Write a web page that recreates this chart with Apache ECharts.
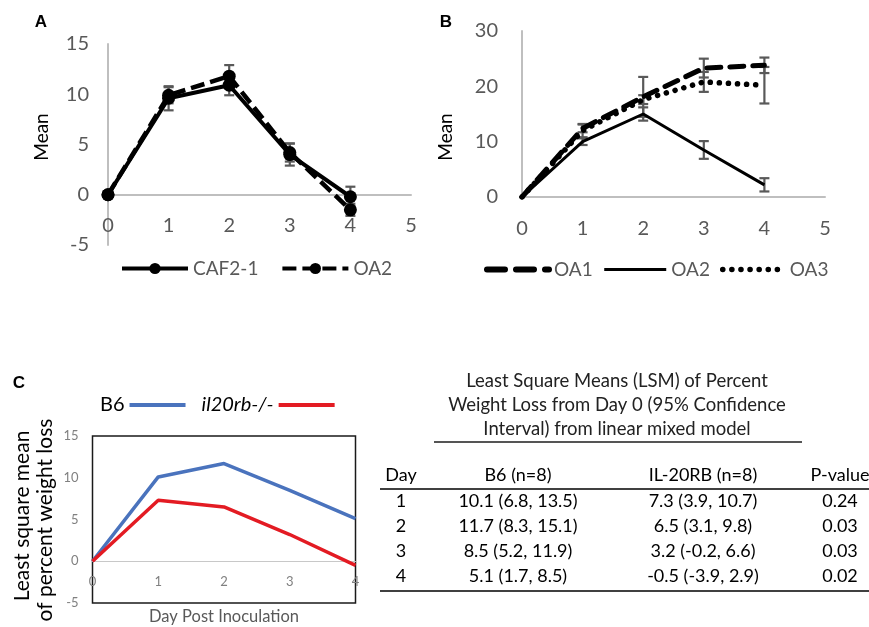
<!DOCTYPE html>
<html>
<head>
<meta charset="utf-8">
<script src="https://cdn.jsdelivr.net/npm/echarts@6/dist/echarts.min.js"></script>
<style>
html, body { margin: 0; padding: 0; background: #fff; }
#chart { width: 869px; height: 627px; }
</style>
</head>
<body>
<div id="chart"></div>
<script>
const days = [0, 1, 2, 3, 4]

// panel A
const caf21 = [0, 9.6, 10.9, 4.0, -0.2]
const caf21Err = [0, 1.2, 1.0, 1.1, 1.0]
const oa2A = [0, 9.9, 11.8, 4.2, -1.5]
const oa2AErr = [0, 0.8, 1.1, 0.9, 0.6]

// panel B
const oa1B = [0, 12.4, 18.1, 23.3, 23.8]
const oa1BErr = [0, 0.7, 3.6, 1.7, 1.4]
const oa2B = [0, 10.0, 15.0, 8.5, 2.2]
const oa2BErr = [0, 0.6, 1.2, 1.6, 1.2]
const oa3B = [0, 12.0, 17.6, 20.8, 20.2]
const oa3BErr = [0, 1.2, 0.8, 1.8, 3.3]

// panel C
const b6 = [0, 10.1, 11.7, 8.5, 5.1]
const il20rb = [0, 7.3, 6.5, 3.2, -0.5]

// table next to C
const tableDays = [1, 2, 3, 4]
const b6Low = [6.8, 8.3, 5.2, 1.7]
const b6High = [13.5, 15.1, 11.9, 8.5]
const ilLow = [3.9, 3.1, -0.2, -3.9]
const ilHigh = [10.7, 9.8, 6.6, 2.9]
const pValues = ['0.24', '0.03', '0.03', '0.02']
const tableTitle = [
  'Least Square Means (LSM) of Percent',
  'Weight Loss from Day 0 (95% Confidence',
  'Interval) from linear mixed model'
]
const tableHead = ['Day', 'B6 (n=8)', 'IL-20RB (n=8)', 'P-value']

const FONT = 'Lato'
const GREY = '#595959'

const pts = (ys) => days.map((d, i) => [d, ys[i]])

const errorBars = (ys, errs, gi) => ({
  type: 'custom',
  xAxisIndex: gi,
  yAxisIndex: gi,
  silent: true,
  z: 1,
  data: days.filter((d, i) => errs[i] > 0).map((d) => {
    const i = days.indexOf(d)
    return [d, ys[i] - errs[i], ys[i] + errs[i]]
  }),
  renderItem: (params, api) => {
    const lo = api.coord([api.value(0), api.value(1)])
    const hi = api.coord([api.value(0), api.value(2)])
    const w = 5
    const st = { stroke: GREY, lineWidth: 2.2 }
    return {
      type: 'group',
      children: [
        { type: 'line', shape: { x1: lo[0], y1: lo[1], x2: hi[0], y2: hi[1] }, style: st },
        { type: 'line', shape: { x1: lo[0] - w, y1: lo[1], x2: lo[0] + w, y2: lo[1] }, style: st },
        { type: 'line', shape: { x1: hi[0] - w, y1: hi[1], x2: hi[0] + w, y2: hi[1] }, style: st }
      ]
    }
  }
})

const txt = (text, x, y, o = {}) => ({
  type: 'text',
  x, y,
  rotation: o.rotation || 0,
  silent: true,
  style: {
    text,
    x: 0, y: 0,
    align: o.align || 'center',
    verticalAlign: 'middle',
    fontSize: o.size || 18,
    fontWeight: o.weight || 'normal',
    fontStyle: o.style || 'normal',
    fontFamily: o.family || FONT,
    fill: o.color || '#000'
  }
})
const hline = (x1, x2, y, w, c) => ({
  type: 'line', silent: true,
  shape: { x1, y1: y, x2, y2: y },
  style: { stroke: c || '#000', lineWidth: w || 1.5 }
})

// table
const colX = [401, 518, 703, 840]
const rowY = [501, 526, 551, 576]
const fmt = (v, lo, hi) => `${v.toFixed(1)} (${lo.toFixed(1)}, ${hi.toFixed(1)})`
const tableEls = []
tableTitle.forEach((t, i) => tableEls.push(txt(t, 617, 381 + i * 24, { color: '#222', size: 18.5 })))
tableEls.push(hline(434, 802, 442, 2, '#555'))
tableHead.forEach((t, i) => tableEls.push(txt(t, colX[i], 475)))
tableEls.push(hline(380, 869, 489, 1.5))
tableDays.forEach((d, i) => {
  tableEls.push(txt(String(d), colX[0], rowY[i]))
  tableEls.push(txt(fmt(b6[d], b6Low[i], b6High[i]), colX[1], rowY[i]))
  tableEls.push(txt(fmt(il20rb[d], ilLow[i], ilHigh[i]), colX[2], rowY[i]))
  tableEls.push(txt(pValues[i], colX[3], rowY[i]))
})
tableEls.push(hline(380, 869, 591, 1.5))

const greyAxis = { show: true, onZero: false, lineStyle: { color: '#bfbfbf', width: 2 } }
const labelAB = (margin) => ({ color: GREY, fontSize: 20, fontFamily: FONT, margin })

const chart = echarts.init(document.getElementById('chart'))
chart.setOption({
  animation: false,
  backgroundColor: '#fff',
  grid: [
    { left: 108, top: 44, width: 303, height: 201, outerBoundsMode: 'none' },
    { left: 522, top: 31, width: 303, height: 166, outerBoundsMode: 'none' },
    { left: 92.5, top: 436, width: 263, height: 167, outerBoundsMode: 'none',
      show: true, borderColor: '#1a1a1a', borderWidth: 1.5, backgroundColor: 'transparent' }
  ],
  xAxis: [
    // x axes sit on the zero line: shifted up from the grid bottom
    { gridIndex: 0, type: 'value', min: 0, max: 5, interval: 1, offset: -50.5, axisLine: greyAxis,
      axisTick: { show: false }, splitLine: { show: false }, axisLabel: labelAB(21) },
    { gridIndex: 1, type: 'value', min: 0, max: 5, interval: 1, axisLine: greyAxis,
      axisTick: { show: false }, splitLine: { show: false }, axisLabel: labelAB(22) },
    { gridIndex: 2, type: 'value', min: 0, max: 4, interval: 1, offset: -41.5,
      axisLine: { show: true, onZero: false, lineStyle: { color: '#c8c8c8', width: 1 } },
      axisTick: { show: false }, splitLine: { show: false },
      axisLabel: { color: '#808080', fontSize: 13, fontFamily: FONT, margin: 14 } }
  ],
  yAxis: [
    { gridIndex: 0, type: 'value', min: -5, max: 15, interval: 5, axisLine: greyAxis,
      axisTick: { show: false }, splitLine: { show: false }, axisLabel: labelAB(19) },
    { gridIndex: 1, type: 'value', min: 0, max: 30, interval: 10, axisLine: greyAxis,
      axisTick: { show: false }, splitLine: { show: false }, axisLabel: labelAB(24) },
    { gridIndex: 2, type: 'value', min: -5, max: 15, interval: 5,
      axisLine: { show: false }, axisTick: { show: false }, splitLine: { show: false },
      axisLabel: { color: '#808080', fontSize: 13, fontFamily: FONT, margin: 14 } }
  ],
  legend: [
    { data: ['CAF2-1', 'OA2 (A)'], left: 115, top: 254, itemWidth: 66, itemHeight: 14, itemGap: 22,
      formatter: (n) => n.replace(' (A)', ''),
      lineStyle: { width: 4 },
      textStyle: { color: GREY, fontSize: 19, fontFamily: FONT } },
    { data: [
        { name: 'OA1', lineStyle: { width: 6, type: [18, 11] } },
        { name: 'OA2 (B)', lineStyle: { width: 3 } },
        { name: 'OA3', lineStyle: { width: 5.5 } }
      ],
      left: 479, top: 255, itemWidth: 62, itemHeight: 14, itemGap: 10,
      formatter: (n) => n.replace(' (B)', ''),
      itemStyle: { opacity: 0 },
      textStyle: { color: GREY, fontSize: 19, fontFamily: FONT } },
    { data: ['B6', { name: 'il20rb-/-', textStyle: { fontStyle: 'italic' } }], left: 95, top: 390,
      align: 'right', itemWidth: 56, itemHeight: 14, itemGap: 14,
      itemStyle: { opacity: 0 },
      lineStyle: { width: 4 },
      textStyle: { color: '#000', fontSize: 20, fontFamily: FONT } }
  ],
  graphic: [
    txt('A', 41, 22, { size: 17, weight: 'bold', family: 'Liberation Sans' }),
    txt('B', 446, 22, { size: 17, weight: 'bold', family: 'Liberation Sans' }),
    txt('C', 19, 383, { size: 17, weight: 'bold', family: 'Liberation Sans' }),
    txt('Mean', 42, 137, { size: 19, rotation: Math.PI / 2 }),
    txt('Mean', 446, 137, { size: 19, rotation: Math.PI / 2 }),
    txt('Least square mean', 22, 516, { size: 21, rotation: Math.PI / 2 }),
    txt('of percent weight loss', 45, 520, { size: 21, rotation: Math.PI / 2 }),
    txt('Day Post Inoculation', 224, 617, { size: 16.5, color: '#595959' }),
    ...tableEls
  ],
  series: [
    errorBars(caf21, caf21Err, 0),
    errorBars(oa2A, oa2AErr, 0),
    { name: 'CAF2-1', type: 'line', xAxisIndex: 0, yAxisIndex: 0, data: pts(caf21),
      symbol: 'circle', symbolSize: 13, z: 3,
      itemStyle: { color: '#000' }, lineStyle: { color: '#000', width: 4 } },
    { name: 'OA2 (A)', type: 'line', xAxisIndex: 0, yAxisIndex: 0, data: pts(oa2A),
      symbol: 'circle', symbolSize: 13, z: 3,
      itemStyle: { color: '#000' }, lineStyle: { color: '#000', width: 4.5, type: [14, 6] } },

    errorBars(oa1B, oa1BErr, 1),
    errorBars(oa2B, oa2BErr, 1),
    errorBars(oa3B, oa3BErr, 1),
    { name: 'OA1', type: 'line', xAxisIndex: 1, yAxisIndex: 1, data: pts(oa1B), symbol: 'none', z: 3,
      itemStyle: { color: '#000' }, lineStyle: { color: '#000', width: 5, type: [14, 9], cap: 'round' } },
    { name: 'OA2 (B)', type: 'line', xAxisIndex: 1, yAxisIndex: 1, data: pts(oa2B), symbol: 'none', z: 3,
      itemStyle: { color: '#000' }, lineStyle: { color: '#000', width: 3 } },
    { name: 'OA3', type: 'line', xAxisIndex: 1, yAxisIndex: 1, data: pts(oa3B), symbol: 'none', z: 3,
      itemStyle: { color: '#000' }, lineStyle: { color: '#000', width: 5.5, type: [0.1, 9], cap: 'round' } },

    { name: 'B6', type: 'line', xAxisIndex: 2, yAxisIndex: 2, data: pts(b6), symbol: 'none',
      itemStyle: { color: '#4a73bd' }, lineStyle: { color: '#4a73bd', width: 3.5 } },
    { name: 'il20rb-/-', type: 'line', xAxisIndex: 2, yAxisIndex: 2, data: pts(il20rb), symbol: 'none',
      itemStyle: { color: '#e31b23' }, lineStyle: { color: '#e31b23', width: 3.5 } }
  ]
})
</script>
</body>
</html>
